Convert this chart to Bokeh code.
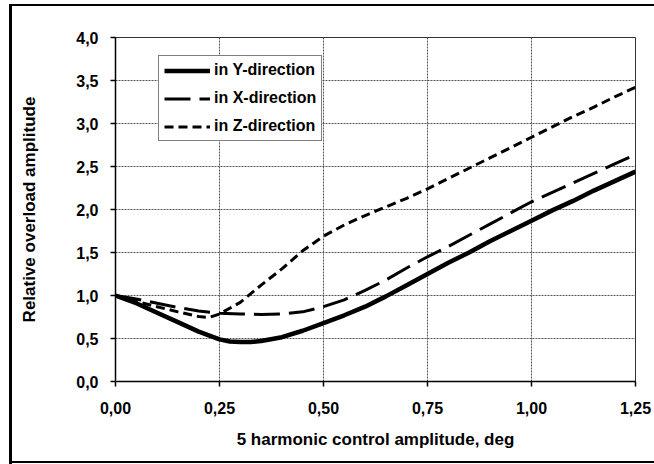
from bokeh.plotting import figure
from bokeh.models import (Legend, LegendItem, CustomJSTickFormatter, FixedTicker, Range1d)
from bokeh.embed import file_html
from bokeh.resources import INLINE

# ---- data ----
y_x = [0.00, 0.05, 0.10, 0.15, 0.20, 0.25, 0.275, 0.30, 0.325, 0.35, 0.40, 0.45, 0.50, 0.55,
       0.60, 0.65, 0.70, 0.75, 0.80, 0.85, 0.90, 0.95, 1.00, 1.05, 1.10, 1.15, 1.20, 1.25]
y_dir = [1.00, 0.91, 0.80, 0.69, 0.58, 0.49, 0.465, 0.458, 0.46, 0.47, 0.515, 0.59, 0.68,
         0.77, 0.87, 0.99, 1.12, 1.25, 1.38, 1.50, 1.63, 1.75, 1.87, 1.99, 2.10, 2.22, 2.33, 2.44]
x_x = [0.00, 0.05, 0.10, 0.15, 0.20, 0.25, 0.30, 0.35, 0.40, 0.45, 0.50, 0.55, 0.60,
       0.65, 0.70, 0.75, 0.80, 0.85, 0.90, 0.95, 1.00, 1.05, 1.10, 1.15, 1.20, 1.25]
x_dir = [1.00, 0.96, 0.91, 0.86, 0.82, 0.795, 0.785, 0.78, 0.785, 0.81, 0.87, 0.95, 1.06,
         1.18, 1.32, 1.45, 1.57, 1.70, 1.83, 1.96, 2.09, 2.20, 2.31, 2.42, 2.53, 2.64]
z_x = [0.00, 0.05, 0.10, 0.15, 0.20, 0.225, 0.25, 0.30, 0.35, 0.40, 0.45, 0.50, 0.55, 0.60,
       0.65, 0.70, 0.75, 0.80, 0.85, 0.90, 0.95, 1.00, 1.05, 1.10, 1.15, 1.20, 1.25]
z_dir = [1.00, 0.93, 0.87, 0.81, 0.755, 0.745, 0.785, 0.92, 1.12, 1.31, 1.52, 1.69, 1.82, 1.93,
         2.03, 2.13, 2.24, 2.36, 2.48, 2.60, 2.72, 2.84, 2.96, 3.08, 3.19, 3.31, 3.42]

x_ticks = [0.0, 0.25, 0.5, 0.75, 1.0, 1.25]
y_ticks = [0.0, 0.5, 1.0, 1.5, 2.0, 2.5, 3.0, 3.5, 4.0]
series_names = ["in Y-direction", "in X-direction", "in Z-direction"]
x_title = "5 harmonic control amplitude, deg"
y_title = "Relative overload amplitude"

FONT = "Liberation Sans"

p = figure(width=654, height=464, output_backend="svg", toolbar_location=None,
           x_range=Range1d(0, 1.25), y_range=Range1d(0, 4),
           min_border_left=115, min_border_right=19, min_border_top=37, min_border_bottom=83)
p.background_fill_color = "white"
p.border_fill_color = "white"
p.border_fill_alpha = 0
p.outline_line_color = "#333333"
p.outline_line_width = 1
# outer chart-area frame (left, top and bottom edges) drawn as CSS background
p.styles = {
    "background-color": "white",
    "background-image": "linear-gradient(#000,#000), linear-gradient(#000,#000), linear-gradient(#000,#000)",
    "background-size": "660px 2px, 3px 460px, 660px 2px",
    "background-position": "9px 4px, 9px 4px, 9px 461px",
    "background-repeat": "no-repeat",
}

r_y = p.line(y_x, y_dir, line_color="black", line_width=4.5, line_join="round")
r_x = p.line(x_x, x_dir, line_color="black", line_width=3, line_dash="26 9")
r_z = p.line(z_x, z_dir, line_color="black", line_width=3, line_dash="9 5")

for ax in (p.xaxis[0], p.yaxis[0]):
    ax.axis_line_color = "black"
    ax.axis_line_width = 1.5
    ax.major_tick_line_color = "black"
    ax.major_tick_line_width = 1.5
    ax.major_tick_in = 0
    ax.major_tick_out = 5
    ax.minor_tick_line_color = None
    ax.major_label_text_font = FONT
    ax.major_label_text_font_style = "bold"
    ax.major_label_text_font_size = "16px"
    ax.major_label_text_color = "black"
    ax.axis_label_text_font = FONT
    ax.axis_label_text_font_style = "bold"
    ax.axis_label_text_font_size = "17px"
    ax.axis_label_text_color = "black"

p.xaxis[0].ticker = FixedTicker(ticks=x_ticks)
p.yaxis[0].ticker = FixedTicker(ticks=y_ticks)
p.xaxis[0].formatter = CustomJSTickFormatter(code="return tick.toFixed(2).replace('.', ',');")
p.yaxis[0].formatter = CustomJSTickFormatter(code="return tick.toFixed(1).replace('.', ',');")
p.xaxis[0].axis_label = x_title
p.yaxis[0].axis_label = y_title
p.xaxis[0].major_label_standoff = 15
p.xaxis[0].axis_label_standoff = 13
p.yaxis[0].major_label_standoff = 12
p.yaxis[0].axis_label_standoff = 34

for g in (p.xgrid[0], p.ygrid[0]):
    g.grid_line_color = "#555555"
    g.grid_line_width = 1
    g.grid_line_dash = "2 1"

legend = Legend(items=[LegendItem(label=series_names[0], renderers=[r_y]),
                       LegendItem(label=series_names[1], renderers=[r_x]),
                       LegendItem(label=series_names[2], renderers=[r_z])],
                location=(43, 240))
legend.border_line_color = "black"
legend.border_line_width = 1
legend.background_fill_color = "white"
legend.background_fill_alpha = 1
legend.label_text_font = FONT
legend.label_text_font_style = "bold"
legend.label_text_font_size = "16px"
legend.label_text_color = "black"
legend.glyph_width = 46
legend.glyph_height = 15
legend.label_height = 15
legend.label_standoff = 4
legend.spacing = 10
legend.padding = 5
legend.margin = 0
p.add_layout(legend)

open("out.html", "w").write(file_html(p, INLINE))
